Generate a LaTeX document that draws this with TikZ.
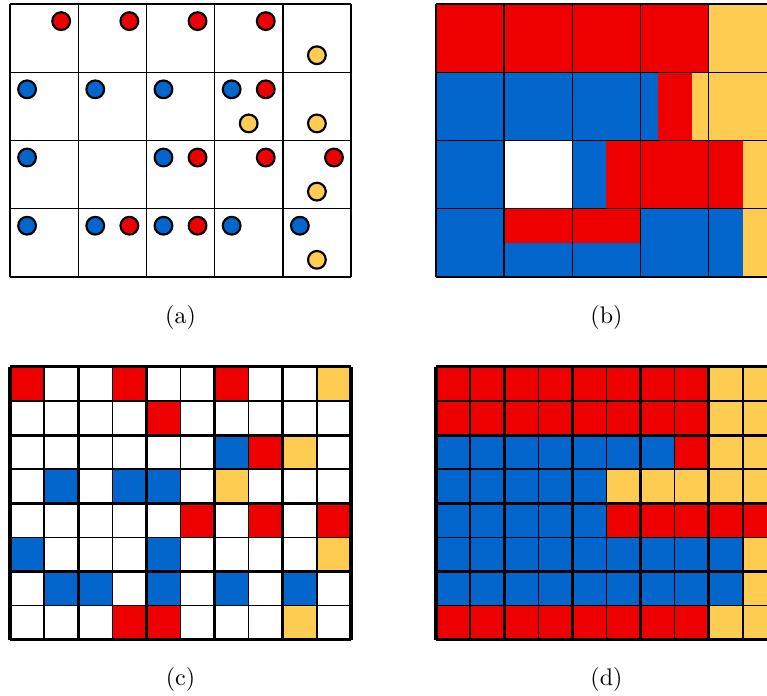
\documentclass[tikz,border=0pt]{standalone}
\usetikzlibrary{positioning}
\definecolor{cred}{RGB}{238,0,0}
\definecolor{cblue}{RGB}{2,102,204}
\definecolor{cyellow}{RGB}{255,204,82}
\begin{document}
\begin{tikzpicture}[line join=round,
	dot/.style={draw=black, line width=0.9pt},
	thingrid/.style={line width=0.6pt},
	thickgrid/.style={line width=1.3pt}]
	\useasboundingbox (-0.147,-6.14) rectangle (11.1,4.06);
	
	% (a) các ô với các chấm màu
	\begin{scope}
		\draw[thingrid] (0,0) grid (5,4);
		\foreach \c/\r in {1/2,2/2,3/2,4/2,1/3,3/3,1/4,2/4,3/4,4/4,5/4}
			\filldraw[dot, fill=cblue] (\c-0.75,4.75-\r) circle (0.13);
		\foreach \c/\r in {1/1,2/1,3/1,4/1,4/2,3/3,4/3,5/3,2/4,3/4}
			\filldraw[dot, fill=cred] (\c-0.25,4.75-\r) circle (0.13);
		\foreach \c/\r in {5/1,4/2,5/2,5/3,5/4}
			\filldraw[dot, fill=cyellow] (\c-0.5,4.25-\r) circle (0.13);
	\end{scope}
	\node (capa) at (2.5,-0.6) {(a)};
	
	% (b) các ô tô màu theo tỉ lệ
	\begin{scope}[shift={(6.246,0)}]
		\fill[cred] (0,3) rectangle (4,4);
		\fill[cyellow] (4,2) rectangle (5,4);
		\fill[cblue] (0,2) rectangle (3.25,3);
		\fill[cred] (3.25,2) rectangle (3.75,3);
		\fill[cyellow] (3.75,2) rectangle (4,3);
		\fill[cblue] (0,1) rectangle (1,2);
		\fill[cblue] (2,1) rectangle (2.5,2);
		\fill[cred] (2.5,1) rectangle (4.5,2);
		\fill[cyellow] (4.5,1) rectangle (5,2);
		\fill[cblue] (0,0) rectangle (4.5,1);
		\fill[cred] (1,0.5) rectangle (3,1);
		\fill[cyellow] (4.5,0) rectangle (5,1);
		\draw[thingrid] (0,0) grid (5,4);
	\end{scope}
	\node (capb) at (8.746,-0.6) {(b)};
	
	% (c) lưới mịn với các ô rời rạc
	\begin{scope}[shift={(0,-5.32)}]
		\foreach \c/\r in {1/1,4/1,7/1,5/2,8/3,6/5,8/5,10/5,4/8,5/8}
			\fill[cred] ({(\c-1)/2},{4-\r/2}) rectangle ++(0.5,0.5);
		\foreach \c/\r in {10/1,9/3,7/4,10/6,9/8}
			\fill[cyellow] ({(\c-1)/2},{4-\r/2}) rectangle ++(0.5,0.5);
		\foreach \c/\r in {7/3,2/4,4/4,5/4,1/6,5/6,2/7,3/7,5/7,7/7,9/7}
			\fill[cblue] ({(\c-1)/2},{4-\r/2}) rectangle ++(0.5,0.5);
		\draw[thingrid] (0,0) grid[step=0.5] (5,4);
		\draw[thickgrid] (0,0) grid (5,4);
	\end{scope}
	\node (capc) at (2.5,-5.91) {(c)};
	
	% (d) lưới mịn sau khi lan màu
	\begin{scope}[shift={(6.246,-5.32)}]
		\fill[cred] (0,3) rectangle (4,4);
		\fill[cyellow] (4,2) rectangle (5,4);
		\fill[cblue] (0,2.5) rectangle (3.5,3);
		\fill[cred] (3.5,2.5) rectangle (4,3);
		\fill[cblue] (0,2) rectangle (2.5,2.5);
		\fill[cyellow] (2.5,2) rectangle (4,2.5);
		\fill[cblue] (0,1.5) rectangle (2.5,2);
		\fill[cred] (2.5,1.5) rectangle (5,2);
		\fill[cblue] (0,0.5) rectangle (4.5,1.5);
		\fill[cyellow] (4.5,0.5) rectangle (5,1.5);
		\fill[cred] (0,0) rectangle (4,0.5);
		\fill[cyellow] (4,0) rectangle (5,0.5);
		\draw[thingrid] (0,0) grid[step=0.5] (5,4);
		\draw[thickgrid] (0,0) grid (5,4);
	\end{scope}
	\node (capd) at (8.746,-5.91) {(d)};
\end{tikzpicture}
\end{document}
